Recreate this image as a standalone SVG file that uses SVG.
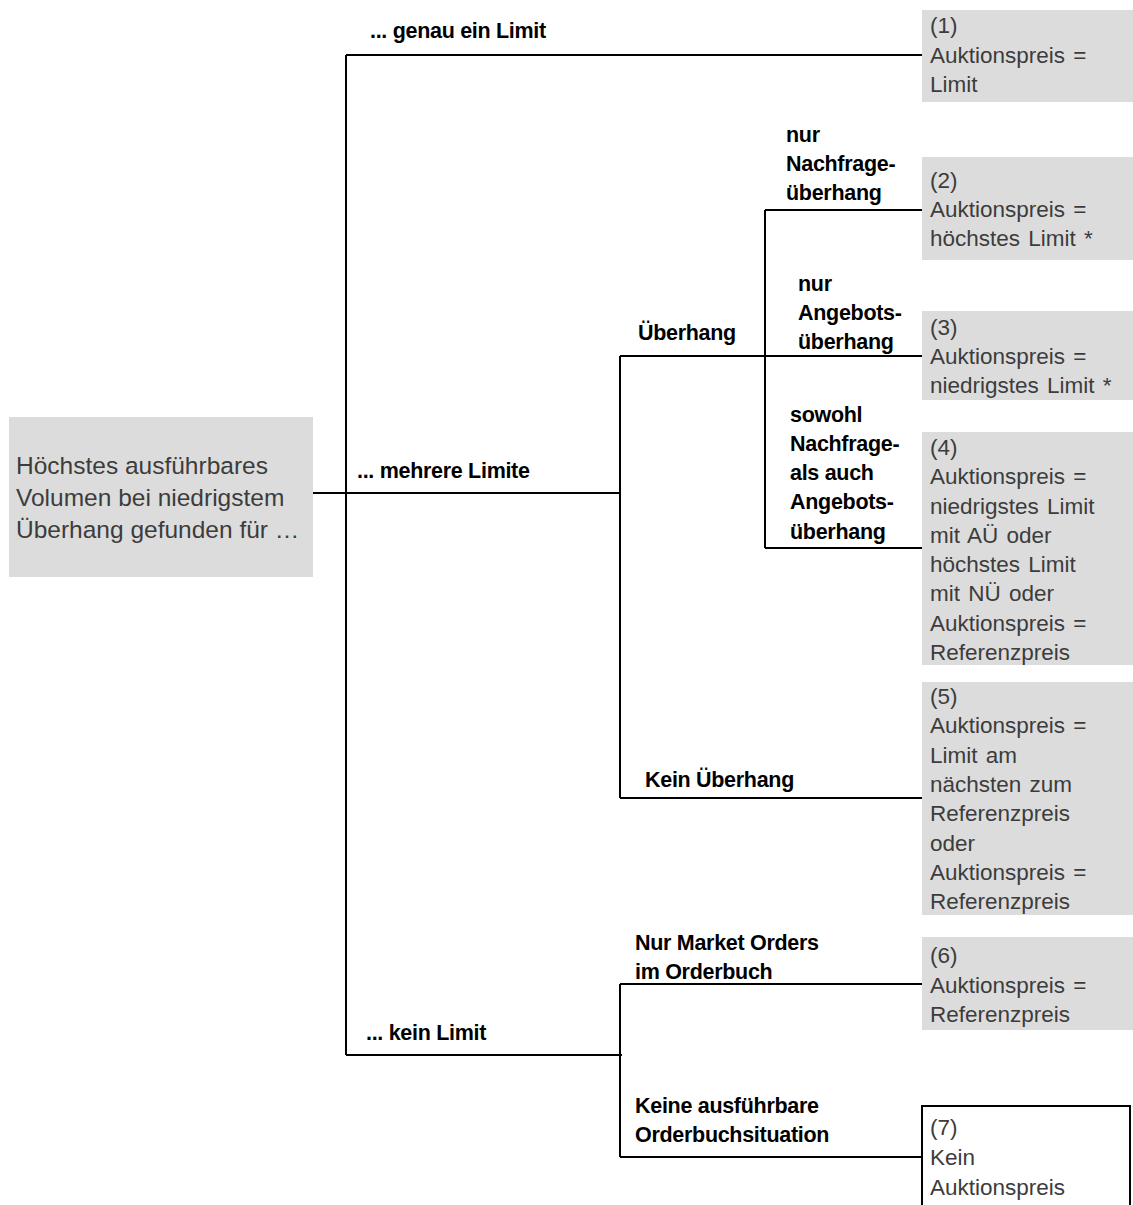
<svg xmlns="http://www.w3.org/2000/svg" width="1133" height="1205" viewBox="0 0 1133 1205">
<style>
.box{fill:#dcdcdc;}
.bt{font-family:"Liberation Sans",Arial,sans-serif;font-size:22.5px;fill:#3c3c3c;word-spacing:2px;}
.st{font-family:"Liberation Sans",Arial,sans-serif;font-size:24.5px;fill:#3c3c3c;}
.lb{font-family:"Liberation Sans",Arial,sans-serif;font-size:21.5px;font-weight:bold;fill:#000;letter-spacing:-0.3px;}
.c{stroke:#000;stroke-width:2;fill:none;}
</style>
<rect width="1133" height="1205" fill="#fff"/>
<g id="connectors">
<path class="c" d="M313,493 H346 M346,55 V1055 M346,55 H922 M346,493 H620 M620,356 V798 M620,356 H922 M765,210 V548 M765,210 H922 M765,548 H922 M620,798 H922 M346,1055 H622 M620,984 V1157 M620,984 H922 M620,1157 H922"/>
</g>
<g id="labels">
<text class="lb" x="370" y="38">... genau ein Limit</text>
<text class="lb" x="357" y="478">... mehrere Limite</text>
<text class="lb" x="366" y="1040">... kein Limit</text>
<text class="lb" x="638" y="340">Überhang</text>
<text class="lb" x="645" y="787">Kein Überhang</text>
<text class="lb" x="786" y="142">nur<tspan x="786" y="171">Nachfrage-</tspan><tspan x="786" y="200">überhang</tspan></text>
<text class="lb" x="798" y="291">nur<tspan x="798" y="320">Angebots-</tspan><tspan x="798" y="349">überhang</tspan></text>
<text class="lb" x="790" y="422">sowohl<tspan x="790" y="451">Nachfrage-</tspan><tspan x="790" y="480">als auch</tspan><tspan x="790" y="509">Angebots-</tspan><tspan x="790" y="539">überhang</tspan></text>
<text class="lb" x="635" y="950">Nur Market Orders<tspan x="635" y="979">im Orderbuch</tspan></text>
<text class="lb" x="635" y="1113">Keine ausführbare<tspan x="635" y="1142">Orderbuchsituation</tspan></text>
</g>
<g id="start">
<rect class="box" x="9" y="417" width="304" height="160"/>
<text class="st" x="16" y="474">Höchstes ausführbares<tspan x="16" y="506">Volumen bei niedrigstem</tspan><tspan x="16" y="538">Überhang gefunden für …</tspan></text>
</g>
<g id="n1">
<rect class="box" x="922" y="10" width="211" height="92"/>
<text class="bt" x="930" y="33">(1)<tspan x="930" y="63">Auktionspreis =</tspan><tspan x="930" y="92">Limit</tspan></text>
</g>
<g id="n2">
<rect class="box" x="922" y="157" width="211" height="103"/>
<text class="bt" x="930" y="188">(2)<tspan x="930" y="217">Auktionspreis =</tspan><tspan x="930" y="246">höchstes Limit *</tspan></text>
</g>
<g id="n3">
<rect class="box" x="922" y="311" width="211" height="89"/>
<text class="bt" x="930" y="335">(3)<tspan x="930" y="364">Auktionspreis =</tspan><tspan x="930" y="393">niedrigstes Limit *</tspan></text>
</g>
<g id="n4">
<rect class="box" x="922" y="432" width="211" height="233"/>
<text class="bt" x="930" y="455">(4)<tspan x="930" y="484">Auktionspreis =</tspan><tspan x="930" y="514">niedrigstes Limit</tspan><tspan x="930" y="543">mit AÜ oder</tspan><tspan x="930" y="572">höchstes Limit</tspan><tspan x="930" y="601">mit NÜ oder</tspan><tspan x="930" y="631">Auktionspreis =</tspan><tspan x="930" y="660">Referenzpreis</tspan></text>
</g>
<g id="n5">
<rect class="box" x="922" y="682" width="211" height="233"/>
<text class="bt" x="930" y="704">(5)<tspan x="930" y="733">Auktionspreis =</tspan><tspan x="930" y="763">Limit am</tspan><tspan x="930" y="792">nächsten zum</tspan><tspan x="930" y="821">Referenzpreis</tspan><tspan x="930" y="851">oder</tspan><tspan x="930" y="880">Auktionspreis =</tspan><tspan x="930" y="909">Referenzpreis</tspan></text>
</g>
<g id="n6">
<rect class="box" x="922" y="937" width="211" height="93"/>
<text class="bt" x="930" y="963">(6)<tspan x="930" y="993">Auktionspreis =</tspan><tspan x="930" y="1022">Referenzpreis</tspan></text>
</g>
<g id="n7">
<rect x="922" y="1106" width="208" height="110" fill="#fff" stroke="#000" stroke-width="2"/>
<text class="bt" x="930" y="1135">(7)<tspan x="930" y="1165">Kein</tspan><tspan x="930" y="1195">Auktionspreis</tspan></text>
</g>
</svg>
